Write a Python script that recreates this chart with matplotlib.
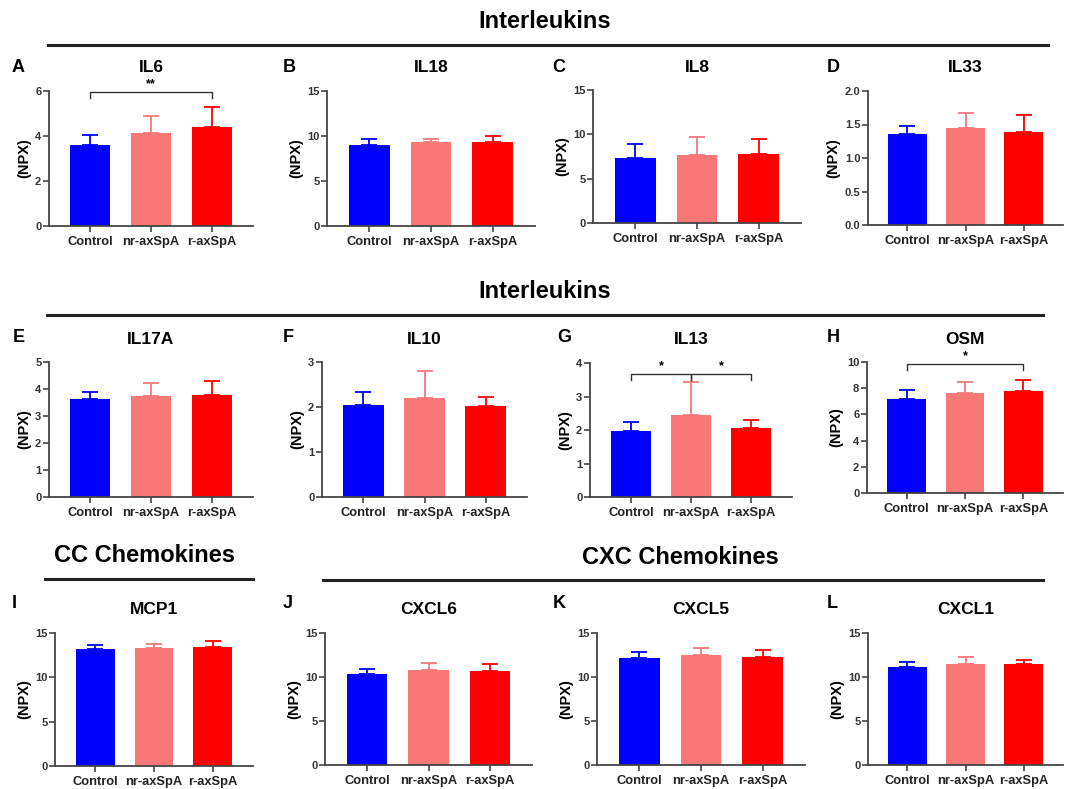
import numpy as np
import matplotlib.pyplot as plt
from matplotlib.lines import Line2D
from matplotlib.transforms import blended_transform_factory

plt.rcParams['font.family'] = ['Liberation Sans', 'DejaVu Sans']
plt.rcParams['font.weight'] = 'bold'
plt.rcParams['axes.labelweight'] = 'bold'

groups = ['Control', 'nr-axSpA', 'r-axSpA']
colors = ['#0000ff', '#f87878', '#ff0000']

# bar height (mean NPX) and upper error
il6_mean = [3.58, 4.14, 4.41]
il6_err = [0.48, 0.77, 0.87]
il18_mean = [9.03, 9.29, 9.33]
il18_err = [0.67, 0.40, 0.67]
il8_mean = [7.33, 7.63, 7.82]
il8_err = [1.62, 2.08, 1.70]
il33_mean = [1.353, 1.448, 1.393]
il33_err = [0.125, 0.219, 0.249]

il17a_mean = [3.62, 3.74, 3.78]
il17a_err = [0.27, 0.50, 0.52]
il10_mean = [2.05, 2.19, 2.02]
il10_err = [0.28, 0.61, 0.20]
il13_mean = [1.97, 2.44, 2.06]
il13_err = [0.28, 0.98, 0.23]
osm_mean = [7.19, 7.67, 7.80]
osm_err = [0.66, 0.81, 0.81]

mcp1_mean = [13.18, 13.30, 13.41]
mcp1_err = [0.42, 0.45, 0.64]
cxcl6_mean = [10.33, 10.82, 10.71]
cxcl6_err = [0.61, 0.80, 0.72]
cxcl5_mean = [12.15, 12.50, 12.27]
cxcl5_err = [0.69, 0.79, 0.79]
cxcl1_mean = [11.13, 11.47, 11.43]
cxcl1_err = [0.53, 0.80, 0.46]

# significance brackets: (from group, to group, bracket y, leg y, stars)
il6_sig = [(0, 2, 5.97, 5.67, '**')]
il13_sig = [(0, 1, 3.67, 3.49, '*'), (1, 2, 3.67, 3.49, '*')]
osm_sig = [(0, 2, 9.85, 9.40, '*')]

W, H = 1066, 789
fig = plt.figure(figsize=(W / 100, H / 100), dpi=100)


def px_axes(left, top, right, bottom):
    return fig.add_axes([left / W, 1 - bottom / H, (right - left) / W, (bottom - top) / H])


def fy(y):
    return 1 - y / H


# letter, title, means, errs, ymax, ystep, fmt, (left, top, right, bottom), letter_x, sig
panels = [
    ('A', 'IL6', il6_mean, il6_err, 6, 2, '%d', (49, 91, 253, 226), 12, il6_sig),
    ('B', 'IL18', il18_mean, il18_err, 15, 5, '%d', (327, 91, 535, 226), 283, []),
    ('C', 'IL8', il8_mean, il8_err, 15, 5, '%d', (593, 90, 801, 223), 552, []),
    ('D', 'IL33', il33_mean, il33_err, 2.0, 0.5, '%.1f', (868, 91, 1063, 225), 827, []),
    ('E', 'IL17A', il17a_mean, il17a_err, 5, 1, '%d', (49, 362, 253, 497), 13, []),
    ('F', 'IL10', il10_mean, il10_err, 3, 1, '%d', (322, 362, 527, 497), 283, []),
    ('G', 'IL13', il13_mean, il13_err, 4, 1, '%d', (590, 363, 792, 497), 557, il13_sig),
    ('H', 'OSM', osm_mean, osm_err, 10, 2, '%d', (867, 362, 1063, 493), 827, osm_sig),
    ('I', 'MCP1', mcp1_mean, mcp1_err, 15, 5, '%d', (55, 633, 253, 766), 12, []),
    ('J', 'CXCL6', cxcl6_mean, cxcl6_err, 15, 5, '%d', (325, 633, 532, 765), 283, []),
    ('K', 'CXCL5', cxcl5_mean, cxcl5_err, 15, 5, '%d', (597, 633, 805, 765), 553, []),
    ('L', 'CXCL1', cxcl1_mean, cxcl1_err, 15, 5, '%d', (868, 633, 1063, 765), 827, []),
]
title_y = {91: 67, 90: 67, 362: 339, 363: 339, 633: 609}
letter_y = {91: 67, 90: 67, 362: 337, 363: 337, 633: 604}

x = np.arange(len(groups))
for letter, name, means, errs, ymax, ystep, fmt, box, lx, sig in panels:
    ax = px_axes(*box)
    ax.bar(x, means, width=0.66, color=colors, zorder=2)
    for i in range(len(groups)):
        ax.errorbar(x[i], means[i], yerr=[[0], [errs[i]]], color=colors[i],
                    capsize=6, elinewidth=1.3, capthick=1.3, zorder=1)
    ax.set_xlim(-0.68, 2.68)
    ax.set_ylim(0, ymax)
    ax.set_yticks(np.arange(0, ymax + ystep / 2, ystep))
    ax.yaxis.set_major_formatter(plt.FormatStrFormatter(fmt))
    ax.set_xticks(x)
    ax.set_xticklabels(groups, fontsize=9.3, color='#222222')
    ax.tick_params(axis='y', labelsize=8, labelcolor='#333333', length=4,
                   width=1.2, color='#444444', pad=1.5)
    ax.tick_params(axis='x', length=4, width=1.2, color='#444444', pad=3)
    for s in ['top', 'right']:
        ax.spines[s].set_visible(False)
    for s in ['left', 'bottom']:
        ax.spines[s].set_color('#444444')
        ax.spines[s].set_linewidth(1.3)
    ax.set_ylabel('(NPX)', fontsize=10.5, fontweight='bold', labelpad=3)

    for a, b, yb, yl, stars in sig:
        ax.plot([a, a, b, b], [yl, yb, yb, yl], color='#333333', lw=1.0, clip_on=False)
        ax.annotate(stars, xy=((a + b) / 2, yb), xytext=(0, 1), textcoords='offset points',
                    ha='center', va='bottom', fontsize=9, annotation_clip=False)

    tr = blended_transform_factory(ax.transData, fig.transFigure)
    ax.text(1, fy(title_y[box[1]]), name, transform=tr, ha='center', va='center', fontsize=12.5)
    fig.text(lx / W, fy(letter_y[box[1]]), letter, ha='left', va='center', fontsize=13)

# section headers
headers = [('Interleukins', 545, 21, 48, 1048, 45),
           ('Interleukins', 545, 292, 47, 1043, 315),
           ('CC Chemokines', 145, 555, 45, 253, 579),
           ('CXC Chemokines', 680, 557, 323, 1043, 580)]
for label, tx, ty, x0, x1, ly in headers:
    fig.text(tx / W, fy(ty), label, ha='center', va='center', fontsize=17)
    fig.add_artist(Line2D([x0 / W, x1 / W], [fy(ly), fy(ly)], color='#222222', lw=2.2))

fig.savefig('out.png', dpi=100)
